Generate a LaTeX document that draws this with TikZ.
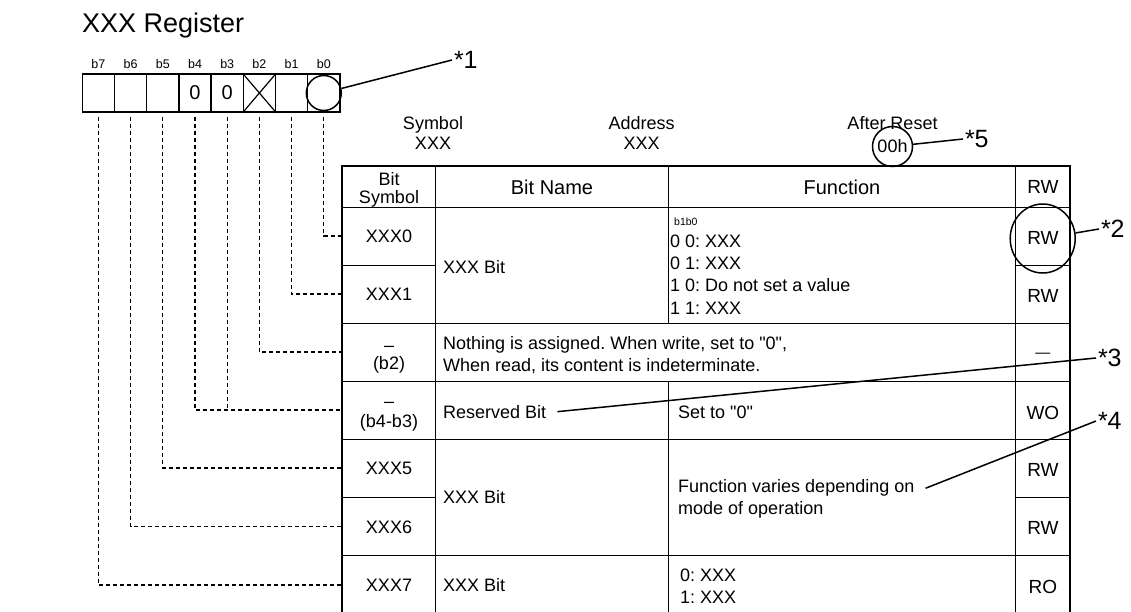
\documentclass[tikz,border=0pt]{standalone}
\usepackage{fontspec}
\setmainfont{Liberation Sans}[Ligatures=TeXOff]
\usetikzlibrary{shapes.geometric}
\frenchspacing
\begin{document}
\frenchspacing
\begin{tikzpicture}[x=1pt,y=-1pt,
  every node/.style={inner sep=0pt},
  sz/.style={font=\fontsize{#1}{#1}\selectfont\frenchspacing},
  tb/.style={anchor=base},
  tw/.style={anchor=base west},
  bitbox/.style={draw, line width=1.4pt, minimum width=32.2pt, minimum height=38pt, sz=20},
  dsh/.style={line width=1.2pt, dash pattern=on 4pt off 3pt},
  outerline/.style={line width=1.8pt},
  vline/.style={line width=1.4pt},
  hline/.style={line width=1.0pt},
  lead/.style={line width=1.5pt},
  star/.style={anchor=west, outer sep=2pt, sz=25},
]
\useasboundingbox (0,0) rectangle (1131,612);

% title
\node[tw, sz=27] (title) at (82,32.7) {XXX Register};

% register bits
\node[bitbox] (b7) at (98.4,93) {};
\node[bitbox] (b6) at (130.6,93) {};
\node[bitbox] (b5) at (162.8,93) {};
\node[bitbox] (b4) at (195.0,93) {0};
\node[bitbox] (b3) at (227.2,93) {0};
\node[bitbox] (b2) at (259.4,93) {};
\node[bitbox] (b1) at (291.6,93) {};
\node[bitbox] (b0) at (323.8,93) {};
\draw[line width=1.2pt] (b2.north west) -- (b2.south east) (b2.north east) -- (b2.south west);
\node[draw, circle, line width=1.5pt, minimum size=35pt] (c0) at (b0) {};

\node[tb, sz=12.5] (l7) at (98.4,68.3) {b7};
\node[tb, sz=12.5] (l6) at (130.6,68.3) {b6};
\node[tb, sz=12.5] (l5) at (162.8,68.3) {b5};
\node[tb, sz=12.5] (l4) at (195.0,68.3) {b4};
\node[tb, sz=12.5] (l3) at (227.2,68.3) {b3};
\node[tb, sz=12.5] (l2) at (259.4,68.3) {b2};
\node[tb, sz=12.5] (l1) at (291.6,68.3) {b1};
\node[tb, sz=12.5] (l0) at (323.8,68.3) {b0};

% header info
\node[tb, sz=18] (symh) at (433,129.1) {Symbol};
\node[tb, sz=18] (symv) at (433,149.4) {XXX};
\node[tb, sz=18] (addh) at (641.7,129.1) {Address};
\node[tb, sz=18] (addv) at (641.7,149.4) {XXX};
\node[tb, sz=18] (rsth) at (892.5,129.7) {After Reset};
\node[draw, circle, lead, minimum size=40pt, sz=18] (c5) at (892.5,146.5) {00h};

% table lines
\draw[outerline] (342.3,612) -- (342.3,165.7) -- (1070,165.7) -- (1070,612);
\draw[vline] (435.7,165.7) -- (435.7,612);
\draw[vline] (1015.7,165.7) -- (1015.7,612);
\draw[vline] (668.3,165.7) -- (668.3,323.3);
\draw[vline] (668.3,381) -- (668.3,612);
\draw[hline] (342.3,207.3) -- (1070,207.3);
\draw[hline] (342.3,265) -- (435.7,265);
\draw[hline] (1015.7,265) -- (1070,265);
\draw[hline] (342.3,323.3) -- (1070,323.3);
\draw[hline] (342.3,381) -- (1070,381);
\draw[hline] (342.3,439) -- (1070,439);
\draw[hline] (342.3,497.3) -- (435.7,497.3);
\draw[hline] (1015.7,497.3) -- (1070,497.3);
\draw[hline] (342.3,555.7) -- (1070,555.7);

% table header
\node[tb, sz=18] (hb1) at (389,185.4) {Bit};
\node[tb, sz=18] (hb2) at (389,203.4) {Symbol};
\node[tb, sz=20] (hbn) at (552,194.2) {Bit Name};
\node[tb, sz=20] (hfn) at (842,194.2) {Function};
\node[tb, sz=19] (hrw) at (1042.9,193.8) {RW};

% column 1
\node[tb, sz=18] (x0) at (389,242.4) {XXX0};
\node[tb, sz=18] (x1) at (389,300.4) {XXX1};
\node[tb, sz=18] (d2) at (389,351) {–};
\node[tb, sz=18] (x2) at (389,369.8) {(b2)};
\node[tb, sz=18] (d34) at (389,407.7) {–};
\node[tb, sz=18] (x34) at (389,427.2) {(b4-b3)};
\node[tb, sz=18] (x5) at (389,474.4) {XXX5};
\node[tb, sz=18] (x6) at (389,533) {XXX6};
\node[tb, sz=18] (x7) at (389,591.4) {XXX7};

% column 2
\node[tw, sz=18] (n01) at (443,273.4) {XXX Bit};
\node[tw, sz=18] (nth1) at (443,349.4) {Nothing is assigned. When write, set to "0",};
\node[tw, sz=18] (nth2) at (443,371.4) {When read, its content is indeterminate.};
\node[tw, sz=18] (rb) at (443,418.1) {Reserved Bit};
\node[tw, sz=18] (n56) at (443,503.4) {XXX Bit};
\node[tw, sz=18] (n7) at (443,591.4) {XXX Bit};

% column 3
\node[tw, sz=10.5] (fb) at (674,225.6) {b1b0};
\node[tw, sz=18] (f00) at (670,247.1) {0 0: XXX};
\node[tw, sz=18] (f01) at (670,269.5) {0 1: XXX};
\node[tw, sz=18] (f10) at (670,291.9) {1 0: Do not set a value};
\node[tw, sz=18] (f11) at (670,314.3) {1 1: XXX};
\node[tw, sz=18] (fs0) at (678,418.1) {Set to "0"};
\node[tw, sz=18] (fv1) at (678,492.9) {Function varies depending on};
\node[tw, sz=18] (fv2) at (678,514.9) {mode of operation};
\node[tw, sz=18] (f70) at (680,581.4) {0: XXX};
\node[tw, sz=18] (f71) at (680,603.4) {1: XXX};

% column 4
\node[tb, sz=19] (rw0) at (1042.9,244.8) {RW};
\node[tb, sz=19] (rw1) at (1042.9,302.8) {RW};
\node[tb, sz=15] (rw2) at (1042.9,357) {—};
\node[tb, sz=19] (rw34) at (1042.9,419.8) {WO};
\node[tb, sz=19] (rw5) at (1042.9,476.8) {RW};
\node[tb, sz=19] (rw6) at (1042.9,534.8) {RW};
\node[tb, sz=19] (rw7) at (1042.9,593.5) {RO};
\node[draw, ellipse, lead, minimum width=65pt, minimum height=69pt] (rwc) at (1042.7,238.5) {};

% row entry points
\coordinate (p0) at (342.3,236);
\coordinate (p1) at (342.3,294);
\coordinate (p2) at (342.3,352);
\coordinate (p34) at (342.3,410);
\coordinate (p5) at (342.3,468);
\coordinate (p6) at (342.3,526.5);
\coordinate (p7) at (342.3,585);

% dashed connectors
\draw[dsh] ([yshift=-4pt]b0.south) |- (p0);
\draw[dsh] ([yshift=-4pt]b1.south) |- (p1);
\draw[dsh] ([yshift=-4pt]b2.south) |- (p2);
\draw[dsh] ([yshift=-4pt]b4.south) |- (p34);
\draw[dsh] ([yshift=-4pt]b3.south) -- (b3.south |- p34);
\draw[dsh] ([yshift=-4pt]b5.south) |- (p5);
\draw[dsh] ([yshift=-4pt]b6.south) |- (p6);
\draw[dsh] ([yshift=-4pt]b7.south) |- (p7);

% callouts
\node[star] (s1) at (452,60) {*1};
\node[star] (s2) at (1099,229) {*2};
\node[star] (s3) at (1096,358) {*3};
\node[star] (s4) at (1096,421) {*4};
\node[star] (s5) at (963,139) {*5};
\draw[lead] (c0) -- (s1.west);
\draw[lead] (rwc) -- (s2.west);
\draw[lead] ([xshift=11pt]rb.east) -- (s3.west);
\draw[lead] ([xshift=11pt]fv1.east) -- (s4.west);
\draw[lead] (c5) -- (s5.west);
\end{tikzpicture}
\end{document}
